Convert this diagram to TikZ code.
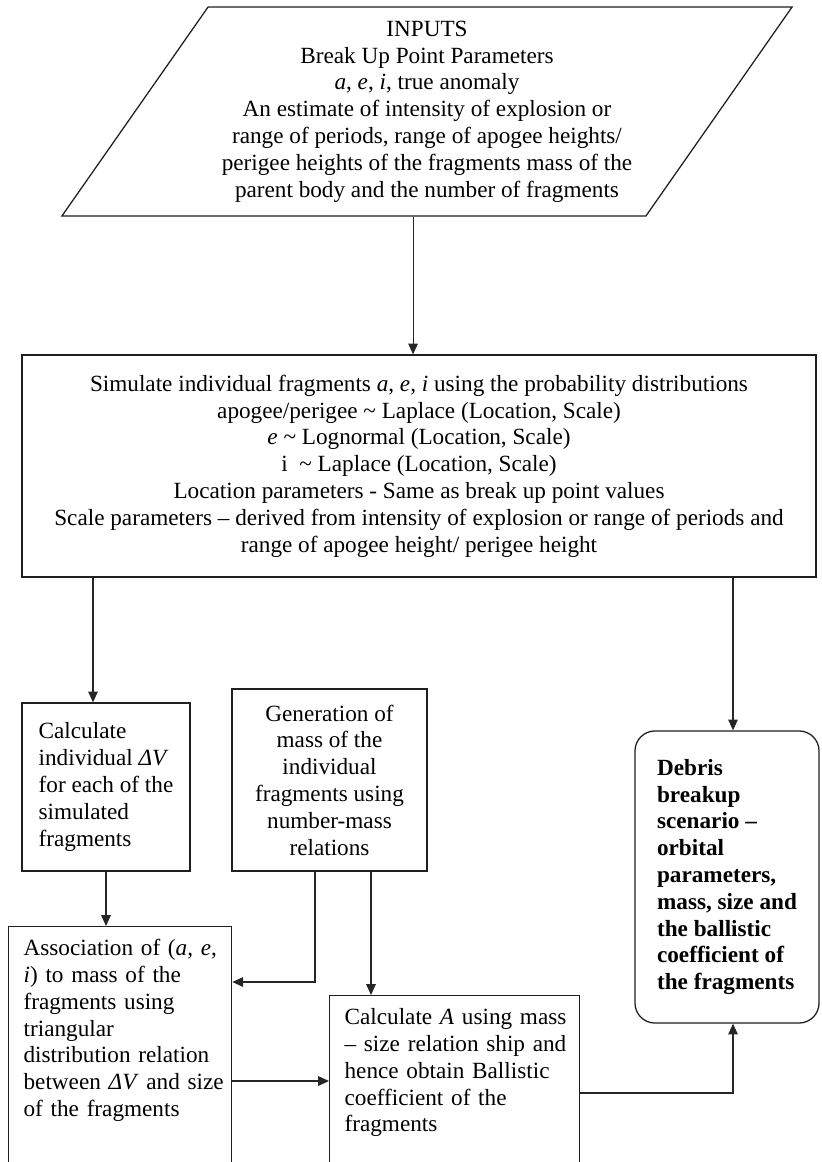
\documentclass[tikz,border=0pt]{standalone}
\usepackage{fontspec}
\setmainfont{Liberation Serif}
\usetikzlibrary{arrows.meta, shapes.geometric, calc}

\begin{document}
\begin{tikzpicture}[
    x=0.025cm, y=-0.025cm,
    font=\fontsize{16.5}{19.06}\selectfont,
    >={Triangle[length=2.7mm,width=2.4mm]},
    flowbox/.style={draw=black!88, line width=0.9pt, inner sep=0pt},
    openbox/.style={draw=black!88, line width=0.9pt, anchor=north west, align=left, inner xsep=0.375cm, inner ysep=0.325cm, text height=0.4cm},
    link/.style={draw=black!85, line width=0.75pt},
]
\useasboundingbox (0,0) rectangle (821,1162);
\clip (0,0) rectangle (821,1162);

% ================= INPUTS =================
\node[flowbox, trapezium, trapezium left angle=51.1, trapezium right angle=128.9, trapezium stretches body, minimum width=18.25cm, minimum height=5.225cm, align=center] (inputs) at (427,111.5) {INPUTS\\
Break Up Point Parameters\\
\textit{a}, \textit{e}, \textit{i}, true anomaly\\
An estimate of intensity of explosion or\\
range of periods, range of apogee heights/\\
perigee heights of the fragments mass of the\\
parent body and the number of fragments};

% ================= SIMULATION =================
\node[flowbox, minimum width=19.85cm, minimum height=5.55cm, align=center] (sim) at (419,466) {Simulate individual fragments \textit{a}, \textit{e}, \textit{i} using the probability distributions\\
apogee/perigee \textasciitilde{} Laplace (Location, Scale)\\
\textit{e} \textasciitilde{} Lognormal (Location, Scale)\\
i \ \textasciitilde{} Laplace (Location, Scale)\\
Location parameters - Same as break up point values\\
Scale parameters -- derived from intensity of explosion or range of periods and\\
range of apogee height/ perigee height};

% ================= MIDDLE ROW =================
\node[flowbox, minimum width=4.2cm, minimum height=4.2cm, align=left] (dv) at (106,787) {Calculate\\
individual \textit{ΔV}\\
for each of the\\
simulated\\
fragments};
\node[flowbox, minimum width=4.875cm, minimum height=4.55cm, align=center] (gen) at (329.5,780) {Generation of\\
mass of the\\
individual\\
fragments using\\
number-mass\\
relations};
\node[flowbox, rounded corners=0.5cm, minimum width=4.6cm, minimum height=7.3cm, align=left, font=\fontsize{16.5}{19.06}\selectfont\bfseries] (debris) at (727,877) {Debris\\
breakup\\
scenario --\\
orbital\\
parameters,\\
mass, size and\\
the ballistic\\
coefficient of\\
the fragments};

% ================= BOTTOM ROW (cut by the page edge) =================
\node[openbox, text width=4.825cm, text depth=5.8cm] (assoc) at (8,926) {\mbox{Association of (\textit{a}, \textit{e},}\\
\textit{i}) to mass of the\\
fragments using\\
triangular\\
distribution relation\\
\mbox{between \textit{ΔV} and size}\\
of the fragments};
\node[openbox, text width=5.5cm, text depth=5cm] (calca) at (329,995) {\mbox{Calculate \textit{A} using mass}\\
\mbox{-- size relation ship and}\\
hence obtain Ballistic\\
coefficient of the\\
fragments};

% ================= CONNECTORS =================
\coordinate (inout) at ($(inputs.south)+(-14,0)$);
\draw[link, ->] (inout) -- (inout |- sim.north);

\coordinate (dvin) at ($(dv.north)+(-13,0)$);
\draw[link, ->] (dvin |- sim.south) -- (dvin);
\coordinate (dbin) at ($(debris.north)+(6,0)$);
\draw[link, ->] (dbin |- sim.south) -- (dbin);

\draw[link, ->] (dv.south) -- (dv.south |- assoc.north);

\coordinate (genl) at ($(gen.south)+(-14.5,0)$);
\coordinate (genr) at ($(gen.south)+(41.5,0)$);
\coordinate (associn) at ($(assoc.north east)+(0,56)$);
\draw[link, ->] (genl) |- (associn);
\draw[link, ->] (genr) -- (genr |- calca.north);

\coordinate (assocout) at ($(assoc.north east)+(0,155)$);
\draw[link, ->] (assocout) -- (assocout -| calca.west);

\coordinate (calcaout) at ($(calca.north east)+(0,98)$);
\coordinate (dbfoot) at (dbin |- debris.south);
\draw[link, ->] (calcaout) -| (dbfoot);

\end{tikzpicture}
\end{document}
